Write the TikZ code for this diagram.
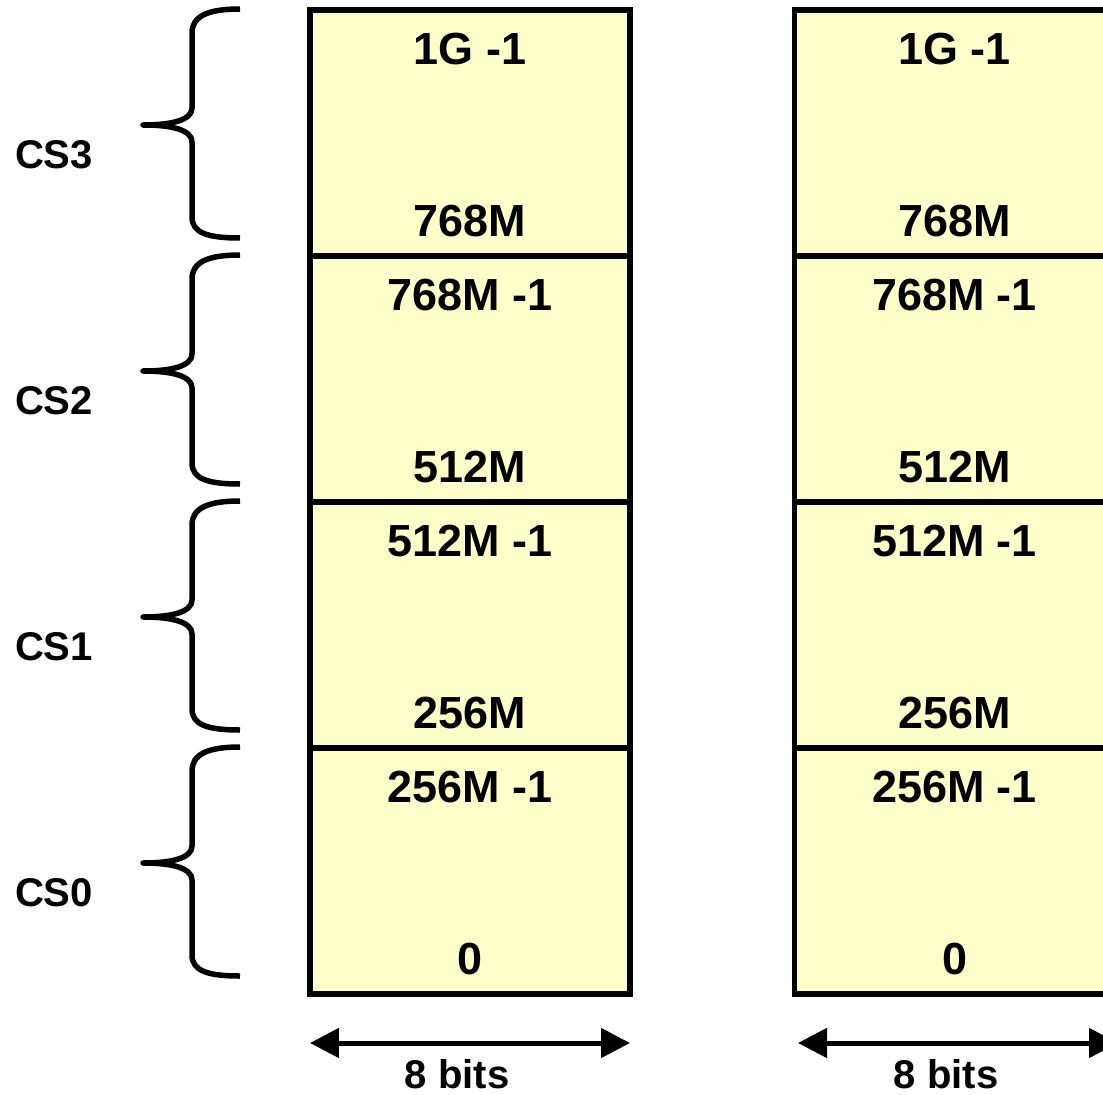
\documentclass[tikz,border=0pt]{standalone}
\usepackage{fontspec}
\setmainfont{Liberation Sans}
\usetikzlibrary{arrows.meta}
\definecolor{memfill}{HTML}{FFFFCC}
\begin{document}
\begin{tikzpicture}[
    x=0.02cm, y=-0.02cm,
    seg/.style={draw, line width=0.11cm, fill=memfill, minimum width=6.4cm, minimum height=4.92cm, inner sep=0pt},
    addr/.style={font=\fontsize{25.6}{30}\bfseries, inner sep=0pt},
    cs/.style={font=\fontsize{22.8}{27}\bfseries, inner sep=0pt},
    brace/.style={line width=0.11cm, line join=round},
    dim/.style={{Triangle[length=0.58cm,width=0.58cm]}-{Triangle[length=0.58cm,width=0.58cm]}, line width=0.1cm}
]
    \useasboundingbox (0,0) rectangle (1103,1095);
    \clip (0,0) rectangle (1103,1095);

    % Chip-select segments, top (CS3) to bottom (CS0)
    \foreach \i/\hi/\lo [evaluate=\i as \yc using 133+246*(3-\i)] in {3/1G -1/768M, 2/768M -1/512M, 1/512M -1/256M, 0/256M -1/0} {
        % Brace and label
        \draw[brace] (240,\yc-124) .. controls (208,\yc-124) and (192,\yc-117) .. (192,\yc-100)
            -- (192,\yc-25) .. controls (192,\yc-13) and (172,\yc-8) .. (143,\yc-8)
            .. controls (172,\yc-8) and (192,\yc-3) .. (192,\yc+9)
            -- (192,\yc+84) .. controls (192,\yc+100) and (208,\yc+105) .. (240,\yc+105);
        \node[cs] (cs\i) at (54,\yc+22) {CS\i};

        % Left device
        \node[seg] (l\i) at (470,\yc) {};
        \node[addr] (lhi\i) at (470,\yc-84) {\hi};
        \node[addr] (llo\i) at (470,\yc+88) {\lo};

        % Right device
        \node[seg] (r\i) at (954.5,\yc) {};
        \node[addr] (rhi\i) at (954.5,\yc-84) {\hi};
        \node[addr] (rlo\i) at (954.5,\yc+88) {\lo};
    }

    % Width arrows
    \coordinate (la) at (310,1043);
    \coordinate (lb) at (630,1043);
    \coordinate (ra) at (798,1043);
    \coordinate (rb) at (1118,1043);
    \draw[dim] (la) -- (lb);
    \draw[dim] (ra) -- (rb);
    \node[cs] (lbits) at (457,1074) {8 bits};
    \node[cs] (rbits) at (946,1074) {8 bits};
\end{tikzpicture}
\end{document}
